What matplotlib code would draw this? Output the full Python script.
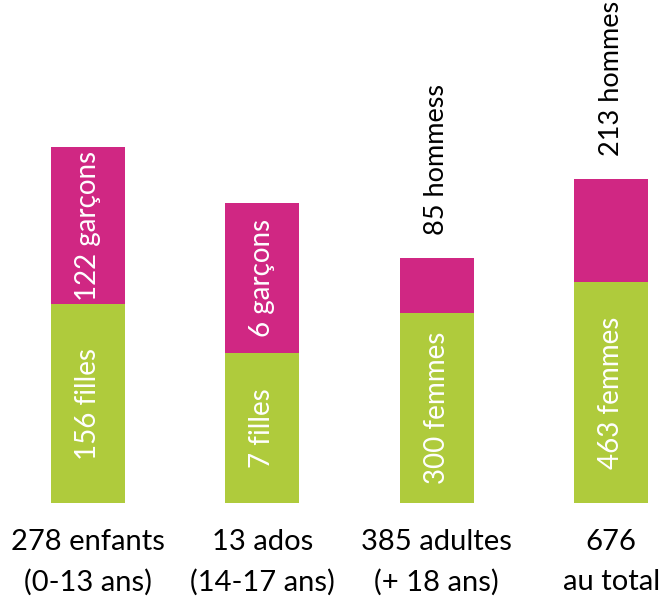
import matplotlib.pyplot as plt
import numpy as np

plt.rcParams['font.family'] = ['Lato', 'DejaVu Sans']

groups = ["278 enfants", "13 ados", "385 adultes", "676"]
subtitles = ["(0-13 ans)", "(14-17 ans)", "(+ 18 ans)", "au total"]

# labels of the segments
lower_labels = ["156 filles", "7 filles", "300 femmes", "463 femmes"]
upper_labels = ["122 garçons", "6 garçons", "85 hommess", "213 hommes"]

# displayed heights (the chart is not drawn to one common scale)
lower_heights = [199, 150, 190, 221]
upper_heights = [157, 150, 55, 103]

# which upper labels sit inside the bar, which above it
upper_inside = [True, True, False, False]

green = "#afcb3c"
magenta = "#d02783"

if __name__ == '__main__':
	fig = plt.figure(figsize=(6.67, 5.97), dpi=100)
	ax = fig.add_axes([0, 94 / 597, 1, 503 / 597])
	x = np.arange(len(groups))
	w = 0.425

	ax.bar(x, lower_heights, w, color=green)
	ax.bar(x, upper_heights, w, bottom=lower_heights, color=magenta)

	for i in range(len(groups)):
		lo = lower_heights[i]
		up = upper_heights[i]
		ax.text(x[i], lo / 2, lower_labels[i], rotation=90, ha='center', va='center',
				color='white', fontsize=20)
		if upper_inside[i]:
			ax.text(x[i], lo + up / 2, upper_labels[i], rotation=90, ha='center', va='center',
					color='white', fontsize=20)
		else:
			ax.text(x[i], lo + up + 23, upper_labels[i], rotation=90, ha='center', va='bottom',
					color='black', fontsize=19.5)
		ax.text(x[i], -39, groups[i], ha='center', va='center', fontsize=21, clip_on=False)
		ax.text(x[i], -79, subtitles[i], ha='center', va='center', fontsize=21, clip_on=False)

	ax.set_xlim(-0.505, 3.32)
	ax.set_ylim(0, 503)
	ax.axis('off')
	fig.savefig("out.png", dpi=100)
